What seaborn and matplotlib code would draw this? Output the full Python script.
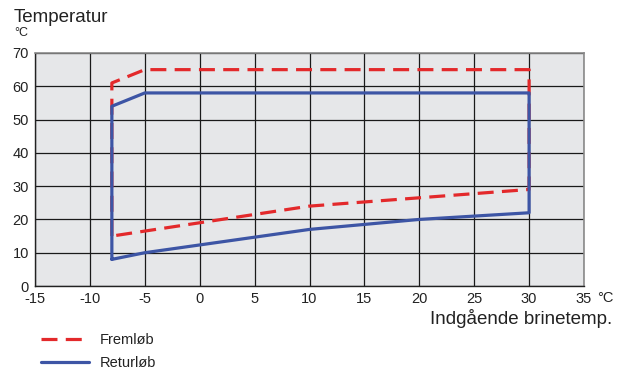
import numpy as np
import pandas as pd
import matplotlib
matplotlib.use("Agg")
import matplotlib.pyplot as plt
import seaborn as sns

# data
frem_x = [-8, -8, -5, 30, 30, 10, -8]
frem_y = [15, 61, 65, 65, 29, 24, 15]
retur_x = [-8, -8, -5, 30, 30, 20, 10, -5, -8]
retur_y = [8, 54, 58, 58, 22, 20, 17, 10, 8]
x_ticks = list(range(-15, 40, 5))
y_ticks = list(range(0, 80, 10))

frem = pd.DataFrame({"x": frem_x, "y": frem_y})
retur = pd.DataFrame({"x": retur_x, "y": retur_y})

sns.set_theme(style="white")
plt.rcParams["font.family"] = ["Liberation Sans", "DejaVu Sans"]

fig = plt.figure(figsize=(6.21, 3.72), dpi=100)
ax = fig.add_axes([35 / 621, 1 - 286 / 372, (584 - 35) / 621, (286 - 53) / 372])
ax.set_facecolor("#e6e7e9")

red = "#e3292b"
blue = "#3d55a5"

sns.lineplot(data=frem, x="x", y="y", sort=False, estimator=None, ax=ax,
             color=red, lw=2.3, label="Fremløb", dashes=False)
ax.lines[-1].set_dashes((5, 2.6))
sns.lineplot(data=retur, x="x", y="y", sort=False, estimator=None, ax=ax,
             color=blue, lw=2.3, label="Returløb")

ax.set_xlim(-15, 35)
ax.set_ylim(0, 70)
ax.set_xticks(x_ticks)
ax.set_yticks(y_ticks)
ax.set_xticklabels([str(t) for t in x_ticks], fontsize=10.5, color="#222222")
ax.set_yticklabels([str(t) for t in y_ticks], fontsize=10.5, color="#222222")
ax.tick_params(axis="both", length=3, width=0.8, color="#222222", pad=1.5)
ax.grid(True, color="#1a1a1a", lw=0.9)
ax.set_axisbelow(True)
for s in ["left", "bottom"]:
    ax.spines[s].set_color("#222222")
    ax.spines[s].set_linewidth(1.0)
for s in ["top", "right"]:
    ax.spines[s].set_color("#8a8a8a")
    ax.spines[s].set_linewidth(1.2)
ax.set_xlabel("")
ax.set_ylabel("")

fig.text(14 / 621, 1 - 17 / 372, "Temperatur", fontsize=13.5, va="center", ha="left", color="#222222")
fig.text(14 / 621, 1 - 33 / 372, "°C", fontsize=9, va="center", ha="left", color="#222222")
fig.text(597 / 621, 1 - 298 / 372, "°C", fontsize=10.5, va="center", ha="left", color="#222222")
fig.text(612 / 621, 1 - 318 / 372, "Indgående brinetemp.", fontsize=13.5, va="center", ha="right", color="#222222")

leg = ax.legend(loc="upper left", bbox_to_anchor=(34 / 621, 1 - 326 / 372),
                bbox_transform=fig.transFigure, frameon=False, fontsize=10.5,
                handlelength=3.3, handletextpad=0.7, labelspacing=0.6, borderpad=0)
for t in leg.get_texts():
    t.set_color("#222222")

fig.savefig("out.png", dpi=100)
